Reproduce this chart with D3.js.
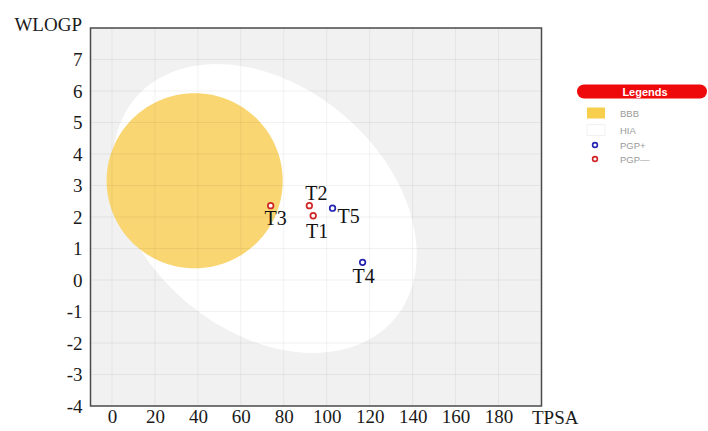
<!DOCTYPE html>
<html lang="en">
<head>
  <meta charset="UTF-8">
  <title>BOILED-Egg: WLOGP vs TPSA</title>
  <script src="https://d3js.org/d3.v7.min.js"></script>
  <style>
    body {
      margin: 0;
      background: #fff;
    }
    .serif {
      font-family: "Liberation Serif", "DejaVu Serif", serif;
    }
  </style>
</head>
<body>
  <div id="chart"></div>

  <script>
    // Data
    const compounds = ["T1", "T2", "T3", "T4", "T5"];
    const tpsa = [93.7, 91.9, 73.9, 116.7, 102.7];
    const wlogp = [2.04, 2.36, 2.36, 0.56, 2.28];
    const pgpClass = ["PGP-", "PGP-", "PGP-", "PGP+", "PGP+"];

    const xTicks = [0, 20, 40, 60, 80, 100, 120, 140, 160, 180];
    const yTicks = [-4, -3, -2, -1, 0, 1, 2, 3, 4, 5, 6, 7];

    // egg regions in data units: centre and two half-axis vectors (TPSA, WLOGP)
    const hiaCenter = [71.2, 2.27];
    const hiaAxes = [[60.3, -3.51], [-36.9, -2.95]];
    const bbbCenter = [38.5, 3.15];
    const bbbAxes = [[41, 0], [0, 2.78]];

    const legendLabels = ["BBB", "HIA", "PGP+", "PGP\u2014"];

    const W = 708, H = 431;
    const box = {left: 90.5, right: 541.5, top: 28, bottom: 406};

    const svg = d3.select("#chart")
                  .append("svg")
                  .attr("width", W)
                  .attr("height", H);

    const x = d3.scaleLinear().domain([-10, 200]).range([box.left, box.right]);
    const y = d3.scaleLinear().domain([-4, 8]).range([box.bottom, box.top]);

    // plot background
    svg.append("rect")
       .attr("x", box.left).attr("y", box.top)
       .attr("width", box.right - box.left)
       .attr("height", box.bottom - box.top)
       .attr("fill", "#f1f1f1");

    // ellipse outline from centre + axis vectors
    const ellipsePath = (c, ax) => {
      const pts = d3.range(0, 121).map(i => {
        const t = i / 120 * 2 * Math.PI;
        return [c[0] + ax[0][0] * Math.cos(t) + ax[1][0] * Math.sin(t),
                c[1] + ax[0][1] * Math.cos(t) + ax[1][1] * Math.sin(t)];
      });
      return d3.line().x(d => x(d[0])).y(d => y(d[1]))(pts) + "Z";
    };

    svg.append("path").attr("d", ellipsePath(hiaCenter, hiaAxes)).attr("fill", "#ffffff");
    svg.append("path").attr("d", ellipsePath(bbbCenter, bbbAxes)).attr("fill", "#fad672");

    // grid on top, faint
    const grid = svg.append("g").attr("stroke", "#000").attr("stroke-opacity", 0.055);
    grid.selectAll(".vg").data(xTicks).enter().append("line")
        .attr("x1", d => x(d)).attr("x2", d => x(d))
        .attr("y1", box.top).attr("y2", box.bottom);
    grid.selectAll(".hg").data(yTicks.filter(d => d > -4)).enter().append("line")
        .attr("y1", d => y(d)).attr("y2", d => y(d))
        .attr("x1", box.left).attr("x2", box.right);

    // frame
    svg.append("rect")
       .attr("x", box.left).attr("y", box.top)
       .attr("width", box.right - box.left)
       .attr("height", box.bottom - box.top)
       .attr("fill", "none")
       .attr("stroke", "#4a4a4a")
       .attr("stroke-width", 1.5);

    // axes (labels only), plain hyphen for negatives
    const yAxis = svg.append("g")
       .attr("transform", `translate(${box.left},0)`)
       .call(d3.axisLeft(y).tickValues(yTicks).tickSize(0).tickPadding(8).tickFormat(d => String(d)));
    const xAxis = svg.append("g")
       .attr("transform", `translate(0,${box.bottom})`)
       .call(d3.axisBottom(x).tickValues(xTicks).tickSize(0).tickPadding(4).tickFormat(d => String(d)));
    [xAxis, yAxis].forEach(g => {
      g.select(".domain").remove();
      g.selectAll("text")
       .attr("class", "serif")
       .style("font-size", "19px")
       .attr("fill", "#1a1a1a");
    });

    svg.append("text").attr("class", "serif")
       .attr("x", 82).attr("y", 24)
       .attr("text-anchor", "end").attr("dominant-baseline", "central")
       .style("font-size", "19px").attr("fill", "#1a1a1a")
       .text("WLOGP");
    svg.append("text").attr("class", "serif")
       .attr("x", 532).attr("y", 417)
       .attr("dominant-baseline", "central")
       .style("font-size", "19px").attr("fill", "#1a1a1a")
       .text("TPSA");

    // compounds
    const pts = compounds.map((name, i) => ({name, tpsa: tpsa[i], wlogp: wlogp[i], pgp: pgpClass[i]}));
    const colour = {"PGP+": "#2424b0", "PGP-": "#cf2525"};
    const labelOffset = {T1: [4, 15], T2: [7, -13], T3: [5, 12], T4: [1, 13.5], T5: [16, 7.5]};

    svg.selectAll(".pt").data(pts).enter().append("circle")
       .attr("cx", d => x(d.tpsa)).attr("cy", d => y(d.wlogp))
       .attr("r", 2.8)
       .attr("fill", "#fff")
       .attr("stroke", d => colour[d.pgp])
       .attr("stroke-width", 1.7);

    svg.selectAll(".lbl").data(pts).enter().append("text")
       .attr("class", "serif")
       .attr("x", d => x(d.tpsa) + labelOffset[d.name][0])
       .attr("y", d => y(d.wlogp) + labelOffset[d.name][1])
       .attr("text-anchor", "middle").attr("dominant-baseline", "central")
       .style("font-size", "20px").attr("fill", "#111")
       .text(d => d.name);

    // legend
    const lg = svg.append("g").style("font-family", "Arial, 'Liberation Sans', sans-serif");
    lg.append("rect")
      .attr("x", 577).attr("y", 84.5).attr("width", 130).attr("height", 14)
      .attr("rx", 7).attr("fill", "#ee0a0a");
    lg.append("text")
      .attr("x", 645).attr("y", 91.5)
      .attr("text-anchor", "middle").attr("dominant-baseline", "central")
      .style("font-size", "11px").style("font-weight", "bold").attr("fill", "#fff")
      .text("Legends");

    const rowY = [113, 130, 145, 159];
    lg.append("rect").attr("x", 587).attr("y", 107.5).attr("width", 18).attr("height", 11)
      .attr("fill", "#f7cf4c");
    lg.append("rect").attr("x", 587).attr("y", 124.5).attr("width", 18).attr("height", 11)
      .attr("fill", "#fff").attr("stroke", "#eee").attr("stroke-width", 0.8);
    lg.append("circle").attr("cx", 595).attr("cy", rowY[2]).attr("r", 2.4)
      .attr("fill", "#fff").attr("stroke", colour["PGP+"]).attr("stroke-width", 1.6);
    lg.append("circle").attr("cx", 595).attr("cy", rowY[3]).attr("r", 2.4)
      .attr("fill", "#fff").attr("stroke", colour["PGP-"]).attr("stroke-width", 1.6);
    lg.selectAll(".lt").data(legendLabels).enter().append("text")
      .attr("x", 620).attr("y", (d, i) => rowY[i])
      .attr("dominant-baseline", "central")
      .style("font-size", "9.5px").attr("fill", "#9a9a9a")
      .text(d => d);
  </script>
</body>
</html>
